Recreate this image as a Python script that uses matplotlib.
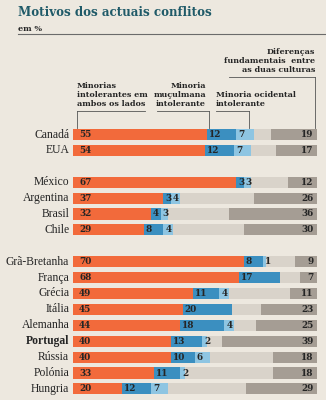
import matplotlib.pyplot as plt

countries = ["Canadá", "EUA", "México", "Argentina", "Brasil", "Chile",
             "Grã-Bretanha", "França", "Grécia", "Itália", "Alemanha",
             "Portugal", "Rússia", "Polónia", "Hungria"]
both_sides = [55, 54, 67, 37, 32, 29, 70, 68, 49, 45, 44, 40, 40, 33, 20]
muslim_minority = [12, 12, 3, 3, 4, 8, 8, 17, 11, 20, 18, 13, 10, 11, 12]
western_minority = [7, 7, 3, 4, 3, 4, 1, 0, 4, 0, 4, 2, 6, 2, 7]
culture_gap = [19, 17, 12, 26, 36, 30, 9, 7, 11, 23, 25, 39, 18, 18, 29]
# row slots, with an empty slot between the regional groups
rows = [0, 1, 3, 4, 5, 6, 8, 9, 10, 11, 12, 13, 14, 15, 16]

PAPER = "#ede8df"
ORANGE = "#f26a3b"
BLUE = "#3b8fc0"
LIGHT_BLUE = "#8ec5e2"
LIGHT_GREY = "#d9d3ca"
DARK_GREY = "#a59d94"
INK = "#252525"
W, H = 326, 400

fig = plt.figure(figsize=(W / 100, H / 100), dpi=100, facecolor=PAPER)
row_px, top_px = 15.9, 134.5
ax = fig.add_axes([73 / W, 0, 244 / W, 1])
ax.set_facecolor(PAPER)
ax.set_xlim(0, 100)
ax.set_ylim((H - top_px) / row_px, -top_px / row_px)
ax.axis("off")

def ftext(x, y, s, **kw):
    fig.text(x / W, 1 - y / H, s, **kw)

serif = "DejaVu Serif"
bh = 0.7
for i, c in enumerate(countries):
    y = rows[i]
    a, b, w, d = both_sides[i], muslim_minority[i], western_minority[i], culture_gap[i]
    ax.barh(y, 100, height=bh, color=LIGHT_GREY, lw=0)
    ax.barh(y, a, height=bh, color=ORANGE, lw=0)
    ax.barh(y, b, left=a, height=bh, color=BLUE, lw=0)
    ax.barh(y, w, left=a + b, height=bh, color=LIGHT_BLUE, lw=0)
    ax.barh(y, d, left=100 - d, height=bh, color=DARK_GREY, lw=0)
    kw = dict(va="center", fontsize=6.4, fontweight="bold", color=INK, family=serif)
    ax.text(2.5, y, str(a), ha="left", **kw)
    ax.text(a + 0.8, y, str(b), ha="left", **kw)
    if w:
        ax.text(a + b + 0.8, y, str(w), ha="left", **kw)
    ax.text(98.5, y, str(d), ha="right", **kw)
    ax.text(-1.5, y, c, ha="right", va="center", fontsize=8.4, color=INK,
            family="Liberation Serif", fontweight="bold" if c == "Portugal" else "normal")

# title block
ftext(18, 12, "Motivos dos actuais conflitos", fontsize=8.6, fontweight="heavy",
      color="#1f5a68", family=serif, va="center")
ftext(18, 29, "em %", fontsize=5.8, fontweight="bold", color=INK, family=serif, va="center")
fig.add_artist(plt.Line2D([18 / W, 1], [1 - 34 / H] * 2, color="#6b6b6b", lw=0.8))

# series call-outs with leader lines down to the first bar
hk = dict(fontsize=5.8, fontweight="bold", color=INK, family=serif, linespacing=1.2)
ftext(77, 108, "Minorias\nintolerantes em\nambos os lados", ha="left", va="bottom", **hk)
ftext(206, 108, "Minoria\nmuçulmana\nintolerante", ha="right", va="bottom", multialignment="right", **hk)
ftext(216, 108, "Minoria ocidental\nintolerante", ha="left", va="bottom", **hk)
ftext(315, 74, "Diferenças\nfundamentais  entre\nas duas culturas", ha="right", va="bottom",
      multialignment="right", **hk)

def leader(x0, x1, y_line, x_down):
    fig.add_artist(plt.Line2D([x0 / W, x1 / W], [1 - y_line / H] * 2, color="#555", lw=0.6))
    fig.add_artist(plt.Line2D([x_down / W] * 2, [1 - y_line / H, 1 - 128 / H], color="#555", lw=0.6))

leader(77, 145, 111, 77)
leader(157, 209, 111, 209)
leader(216, 249, 111, 249)
leader(229, 315, 77, 315)

fig.savefig("out.png", dpi=100, facecolor=PAPER)
